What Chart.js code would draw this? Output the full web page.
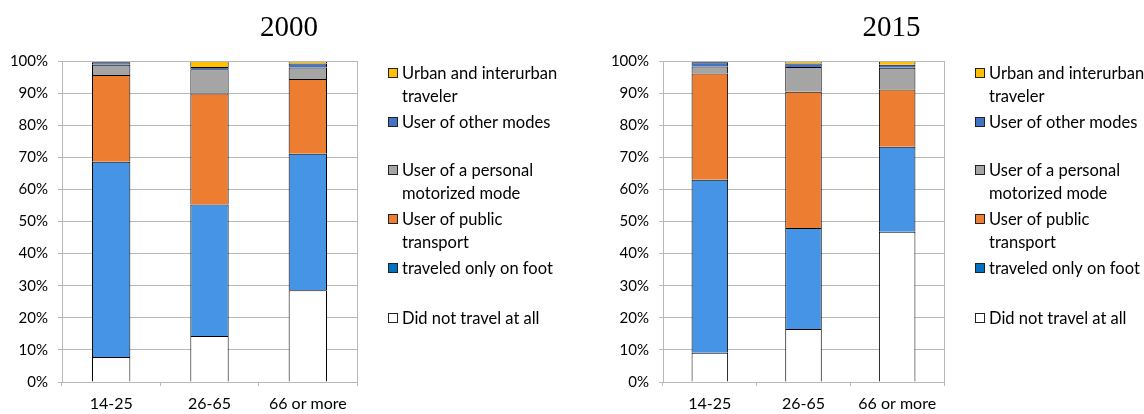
<!DOCTYPE html>
<html>
<head>
<meta charset="utf-8">
<script src="https://cdn.jsdelivr.net/npm/chart.js@4"></script>
<style>
  body { margin: 0; background: #fff; }
  .box { position: absolute; top: 0; width: 572px; height: 414px; }
</style>
</head>
<body>
<div class="box" style="left:0"><canvas id="chart2000"></canvas></div>
<div class="box" style="left:572px"><canvas id="chart2015"></canvas></div>
<script>
// age groups
const categories = ['14-25', '26-65', '66 or more'];

// legend labels, bottom segment first (line breaks as in the original legend)
const seriesLabels = [
  ['Did not travel at all'],
  ['traveled only on foot'],
  ['User of public', 'transport'],
  ['User of a personal', 'motorized mode'],
  ['User of other modes'],
  ['Urban and interurban', 'traveler']
];

// shares in %, year 2000
const noTravel2000  = [7.8, 14.3, 28.6];
const onFoot2000    = [60.8, 41.0, 42.5];
const publicTr2000  = [27.0, 34.6, 23.3];
const personal2000  = [3.2, 7.5, 3.6];
const otherMode2000 = [0.8, 0.7, 1.2];
const urban2000     = [0.4, 1.9, 0.8];

// shares in %, year 2015
const noTravel2015  = [9.1, 16.5, 46.8];
const onFoot2015    = [53.9, 31.5, 26.5];
const publicTr2015  = [33.1, 42.4, 17.8];
const personal2015  = [2.2, 7.7, 6.8];
const otherMode2015 = [1.3, 1.1, 0.9];
const urban2015     = [0.4, 0.8, 1.2];

const yTicks = [0, 10, 20, 30, 40, 50, 60, 70, 80, 90, 100];

const barColors    = ['#ffffff', '#4594e6', '#ed7d31', '#a5a5a5', '#4472c4', '#ffc000'];
const legendColors = ['#ffffff', '#0070c0', '#ed7d31', '#a5a5a5', '#4472c4', '#ffc000'];
const font = 'Lato';
const gridColor = '#b8b8b8';

// legend + title + plot frame drawn on the canvas
const decorPlugin = {
  id: 'decor',
  afterDraw(chart, args, opts) {
    const ctx = chart.ctx;
    const a = chart.chartArea;
    ctx.save();
    // plot area frame
    ctx.strokeStyle = gridColor;
    ctx.lineWidth = 1;
    ctx.strokeRect(Math.round(a.left) + 0.5, Math.round(a.top) + 0.5,
      Math.round(a.right - a.left), Math.round(a.bottom - a.top));
    // title
    ctx.fillStyle = '#000';
    ctx.font = '29px "Liberation Serif"';
    ctx.textAlign = 'center';
    ctx.textBaseline = 'middle';
    ctx.fillText(opts.title, opts.titleX, 28);
    // legend, top entry = last dataset
    ctx.font = '16.5px ' + font;
    ctx.textAlign = 'left';
    const itemY = [12, 61, 109, 158, 207, 257];
    const x0 = a.right + 31;
    const n = chart.data.datasets.length;
    for (let k = 0; k < n; k++) {
      const i = n - 1 - k;
      const y = a.top + itemY[k];
      ctx.fillStyle = legendColors[i];
      ctx.fillRect(x0, y - 5, 10, 10);
      ctx.strokeStyle = '#222';
      ctx.strokeRect(x0 + 0.5, y - 4.5, 9, 9);
      ctx.fillStyle = '#000';
      seriesLabels[i].forEach((line, j) => ctx.fillText(line, x0 + 14, y + 1 + j * 23));
    }
    ctx.restore();
  }
};

function makeChart(id, series, title, titleX, yWidth, rightPad) {
  return new Chart(document.getElementById(id), {
    type: 'bar',
    data: {
      labels: categories,
      datasets: series.map((vals, i) => ({
        label: seriesLabels[i].join(' '),
        data: vals,
        backgroundColor: barColors[i],
        borderColor: '#000',
        borderWidth: 1,
        categoryPercentage: 1,
        barPercentage: 0.39
      }))
    },
    options: {
      responsive: true,
      maintainAspectRatio: false,
      animation: false,
      layout: { padding: { left: 0, right: rightPad, top: 61, bottom: 0 } },
      plugins: {
        legend: { display: false },
        tooltip: { enabled: false },
        decor: { title: title, titleX: titleX }
      },
      scales: {
        x: {
          stacked: true,
          grid: { drawOnChartArea: false, drawTicks: true, tickLength: 4, color: gridColor, offset: true },
          border: { color: gridColor },
          ticks: { color: '#000', padding: 8, font: { family: font, size: 16 } },
          afterFit(s) { s.height = 32; }
        },
        y: {
          stacked: true,
          min: 0,
          max: 100,
          afterBuildTicks(s) { s.ticks = yTicks.map(v => ({ value: v })); },
          grid: { color: gridColor, tickLength: 4 },
          border: { color: gridColor },
          ticks: { color: '#000', padding: 10, font: { family: font, size: 15 }, callback: v => v + '%' },
          afterFit(s) { s.width = yWidth; }
        }
      }
    },
    plugins: [decorPlugin]
  });
}

makeChart('chart2000',
  [noTravel2000, onFoot2000, publicTr2000, personal2000, otherMode2000, urban2000],
  '2000', 289, 62, 215);
makeChart('chart2015',
  [noTravel2015, onFoot2015, publicTr2015, personal2015, otherMode2015, urban2015],
  '2015', 319.5, 91, 200);
</script>
</body>
</html>
